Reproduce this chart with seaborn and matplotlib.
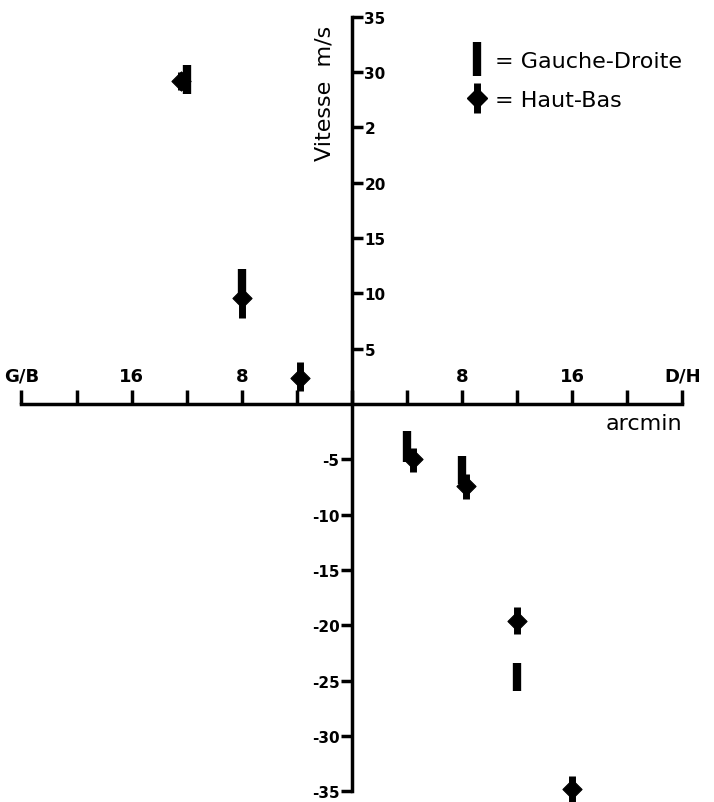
import pandas as pd
import matplotlib.pyplot as plt
import seaborn as sns
from matplotlib.lines import Line2D
from matplotlib.legend_handler import HandlerTuple

# axis ticks
arcmin_ticks = [-24, -20, -16, -12, -8, -4, 0, 4, 8, 12, 16, 20, 24]
arcmin_labels = ["G/B", "", "16", "", "8", "", "", "", "8", "", "16", "", "D/H"]
vitesse_ticks = [-35, -30, -25, -20, -15, -10, -5, 5, 10, 15, 20, 25, 30, 35]
vitesse_labels = ["-35", "-30", "-25", "-20", "-15", "-10", "-5",
                  "5", "10", "15", "20", "2", "30", "35"]

# Gauche-Droite: vertical bars (arcmin, low / high speed)
gd_x = [-12, -8, 4, 8, 12]
gd_lo = [28.0, 9.0, -5.2, -7.2, -25.9]
gd_hi = [30.6, 12.2, -2.4, -4.7, -23.4]

# Haut-Bas: diamond with stem
hb_x = [-12.4, -8, -3.8, 4.4, 8.3, 12, 16]
hb_y = [29.2, 9.6, 2.4, -5.0, -7.4, -19.6, -34.8]
hb_lo = [28.4, 7.8, 1.2, -6.1, -8.6, -20.8, -36.0]
hb_hi = [30.0, 11.0, 3.8, -4.0, -6.3, -18.3, -33.6]

df_hb = pd.DataFrame({"arcmin": hb_x, "vitesse": hb_y})

sns.set_style("white")
plt.rcParams["text.color"] = "black"
fig = plt.figure(figsize=(7.14, 8.03), dpi=100)
ax = fig.add_axes([0, 0, 1, 1])
ax.set_xlim(-25.56, 26.29)
ax.set_ylim(-35.95, 36.6)

ax.vlines(gd_x, gd_lo, gd_hi, color="black", lw=6, clip_on=False)
ax.vlines(hb_x, hb_lo, hb_hi, color="black", lw=5, clip_on=False)
sns.scatterplot(data=df_hb, x="arcmin", y="vitesse", marker="D", s=95,
                color="black", edgecolor="black", ax=ax, clip_on=False)
ax.set_xlabel("")
ax.set_ylabel("")

# axes through the origin
for s in ["left", "right", "top", "bottom"]:
    ax.spines[s].set_color("black")
    ax.spines[s].set_linewidth(2.5)
ax.spines["bottom"].set_visible(False)
ax.spines["right"].set_visible(False)
ax.spines["top"].set_position(("data", 0))
ax.spines["top"].set_bounds(-24, 24)
ax.spines["left"].set_position(("data", 0))
ax.spines["left"].set_bounds(-35, 35)
ax.spines["right"].set_position(("data", 0))

ax.xaxis.set_ticks_position("top")
ax.set_xticks(arcmin_ticks)
ax.set_xticklabels(arcmin_labels)
ax.tick_params(axis="x", direction="out", length=10, width=2.5,
               labelsize=13, pad=4, colors="black")

ax.set_yticks(vitesse_ticks)
ax.set_yticklabels(vitesse_labels)
ax.tick_params(axis="y", left=True, right=True, labelleft=True, labelright=True,
               direction="out", length=8, width=2.5, labelsize=11, pad=1,
               colors="black")
for t, v in zip(ax.yaxis.get_major_ticks(), vitesse_ticks):
    pos = v > 0
    t.tick1line.set_visible(not pos)
    t.label1.set_visible(not pos)
    t.tick2line.set_visible(pos)
    t.label2.set_visible(pos)
for lab in ax.get_yticklabels() + ax.get_xticklabels():
    lab.set_fontweight("bold")

ax.text(24, -0.8, "arcmin", ha="right", va="top", fontsize=16, color="black")
ax.text(-2.0, 28.2, "Vitesse  m/s", rotation=90, ha="center", va="center",
        fontsize=16, color="black")

bar = Line2D([], [], color="black", lw=0, marker="|", markersize=24, markeredgewidth=6)
stem = Line2D([], [], color="black", lw=0, marker="|", markersize=22, markeredgewidth=5)
dia = Line2D([], [], color="black", lw=0, marker="D", markersize=10)
fig.legend([bar, (stem, dia)], ["= Gauche-Droite", "= Haut-Bas"],
           handler_map={tuple: HandlerTuple(ndivide=1, pad=0)},
           loc="upper left", bbox_to_anchor=(466 / 714, 1 - 52 / 803),
           frameon=False, fontsize=16, handlelength=1.0, handletextpad=0.3,
           labelspacing=0.85, borderpad=0, borderaxespad=0, labelcolor="black")

fig.savefig("out.png", dpi=100)
